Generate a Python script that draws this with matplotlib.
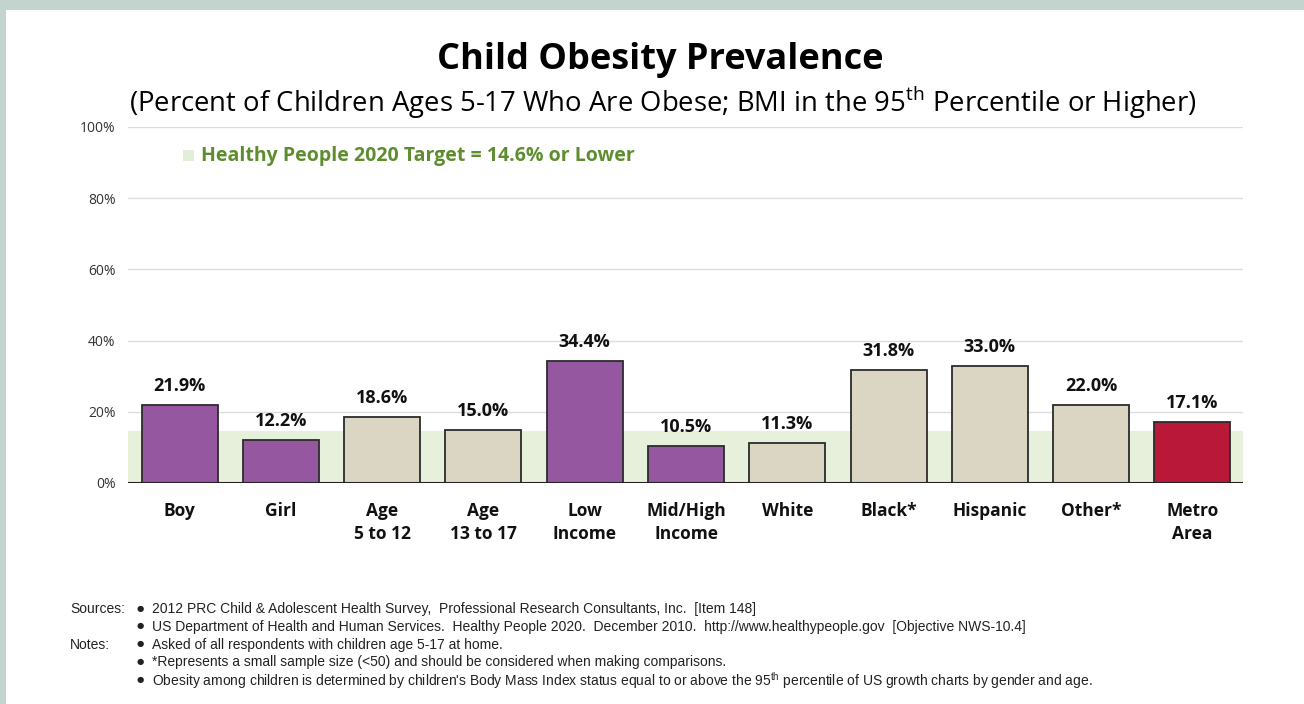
import matplotlib
matplotlib.use("Agg")
import matplotlib.pyplot as plt
from matplotlib.patches import Rectangle

categories = ["Boy", "Girl", "Age\n5 to 12", "Age\n13 to 17", "Low\nIncome",
              "Mid/High\nIncome", "White", "Black*", "Hispanic", "Other*", "Metro\nArea"]
values = [21.9, 12.2, 18.6, 15.0, 34.4, 10.5, 11.3, 31.8, 33.0, 22.0, 17.1]
groups = ["gender", "gender", "age", "age", "income", "income",
          "race", "race", "race", "race", "total"]
target = 14.6
y_ticks = [0, 20, 40, 60, 80, 100]

colors = {"gender": "#9657a1", "income": "#9657a1", "age": "#dbd6c4",
          "race": "#dbd6c4", "total": "#ba1839"}

plt.rcParams['font.family'] = ['Open Sans', 'DejaVu Sans']

fig = plt.figure(figsize=(13.04, 7.04), dpi=100)
fig.patch.set_facecolor("#c3d3ce")
fig.patches.append(Rectangle((6 / 1304, 0), 1, 1 - 10 / 704, transform=fig.transFigure,
                             facecolor="white", edgecolor="none", zorder=-10))

ax = fig.add_axes([128 / 1304, 1 - 483 / 704, (1243 - 128) / 1304, (483 - 127) / 704])
ax.set_facecolor("none")
x = list(range(len(values)))

ax.axhspan(0, target, color="#e6f0da", zorder=0, lw=0)
for t in y_ticks[1:]:
    ax.axhline(t, color="#dcdcdc", lw=1, zorder=0.5)

bars = ax.bar(x, values, width=0.75, color=[colors[g] for g in groups],
              edgecolor="#2b2b2b", linewidth=1.3, zorder=2)
for xi, v in zip(x, values):
    ax.annotate(f"{v:.1f}%", (xi, v), xytext=(0, 7), textcoords="offset points",
                ha="center", va="bottom", fontsize=13, fontweight="bold", color="#111111")

ax.axhline(0, color="#222222", lw=1.5, zorder=3)
ax.set_xlim(-0.51, 10.5)
ax.set_ylim(0, 100)
ax.set_yticks(y_ticks)
ax.set_yticklabels([f"{t}%" for t in y_ticks], fontsize=10, color="#333333")
ax.tick_params(axis="y", length=0, pad=9)
ax.set_xticks(x)
ax.set_xticklabels(categories, fontsize=12.5, fontweight="bold", color="#111111",
                   linespacing=1.3, va="top")
ax.tick_params(axis="x", length=0, pad=14)
for s in ax.spines.values():
    s.set_visible(False)

# legend for target band
fig.patches.append(Rectangle((183 / 1304, 1 - 161 / 704), 11 / 1304, 11 / 704,
                             transform=fig.transFigure, facecolor="#e3eed8",
                             edgecolor="none", zorder=3))
fig.text(201 / 1304, 1 - 156 / 704, "Healthy People 2020 Target = 14.6% or Lower",
         fontsize=14, fontweight="bold", color="#5e8d30", va="center", ha="left")

fig.text(660 / 1304, 1 - 60 / 704, "Child Obesity Prevalence", fontsize=26,
         fontweight="bold", ha="center", va="center", color="black")
fig.text(663 / 1304, 1 - 103 / 704,
         r"(Percent of Children Ages 5-17 Who Are Obese; BMI in the 95$^{\mathregular{th}}$ Percentile or Higher)",
         fontsize=19.8, ha="center", va="center", color="black")

foot_font = ['Liberation Sans', 'DejaVu Sans']
foot = [
    ("Sources:", "2012 PRC Child & Adolescent Health Survey,  Professional Research Consultants, Inc.  [Item 148]"),
    ("", "US Department of Health and Human Services.  Healthy People 2020.  December 2010.  http://www.healthypeople.gov  [Objective NWS-10.4]"),
    ("Notes:", "Asked of all respondents with children age 5-17 at home."),
    ("", "*Represents a small sample size (<50) and should be considered when making comparisons."),
    ("", r"Obesity among children is determined by children's Body Mass Index status equal to or above the 95$^{\mathregular{th}}$ percentile of US growth charts by gender and age."),
]
for i, (head, line) in enumerate(foot):
    yy = 1 - (609 + i * 17.8) / 704
    if head:
        fig.text(70 / 1304, yy, head, fontsize=10, family=foot_font, va="center", color="#222222")
    fig.text(137 / 1304, yy, "\u25cf", fontsize=6, va="center", color="#222222")
    fig.text(152 / 1304, yy, line, fontsize=10, family=foot_font, va="center", color="#222222")

fig.savefig("out.png", dpi=100, facecolor=fig.get_facecolor())
